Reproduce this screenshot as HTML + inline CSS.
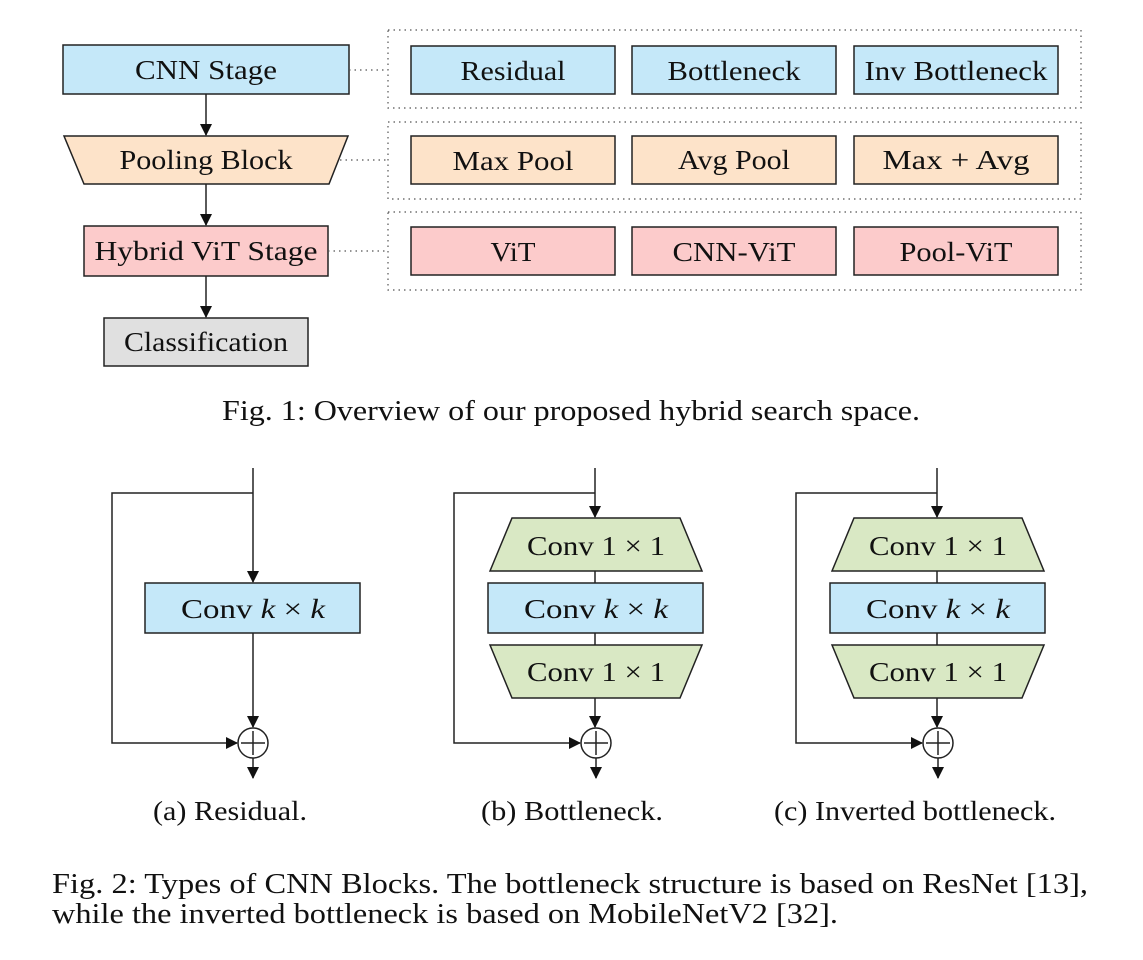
<!DOCTYPE html>
<html><head><style>
html,body{margin:0;padding:0;background:#fff;}
svg{display:block;}
text{font-family:"Liberation Serif",serif;fill:#111;}
</style></head><body>
<svg width="1143" height="960" viewBox="0 0 1143 960" xmlns="http://www.w3.org/2000/svg">
<defs>
<marker id="a" markerWidth="12" markerHeight="12" refX="11" refY="6" orient="auto" markerUnits="userSpaceOnUse"><path d="M0,0 L12,6 L0,12 z" fill="#111"/></marker>
</defs>
<g stroke="#222" stroke-width="1.5">
<rect x="63" y="45" width="286" height="49" fill="#c5e8f9"/>
<polygon points="64,136 348,136 329,184 84,184" fill="#fde3c9"/>
<rect x="84" y="226" width="244" height="50" fill="#fccbcb"/>
<rect x="104" y="318" width="204" height="48" fill="#e0e0e0"/>
<line x1="206" y1="94" x2="206" y2="135" marker-end="url(#a)"/>
<line x1="206" y1="184" x2="206" y2="225" marker-end="url(#a)"/>
<line x1="206" y1="276" x2="206" y2="317" marker-end="url(#a)"/>
</g>
<g stroke="#555" stroke-width="1.2" stroke-dasharray="1.5,4" fill="none">
<rect x="388" y="30" width="693" height="78"/>
<rect x="388" y="122" width="693" height="77"/>
<rect x="388" y="212" width="693" height="78"/>
<line x1="349" y1="70" x2="388" y2="70"/>
<line x1="340" y1="160" x2="388" y2="160"/>
<line x1="328" y1="251" x2="388" y2="251"/>
</g>
<g stroke="#222" stroke-width="1.5">
<rect x="411" y="46" width="204" height="48" fill="#c5e8f9"/>
<rect x="632" y="46" width="204" height="48" fill="#c5e8f9"/>
<rect x="854" y="46" width="204" height="48" fill="#c5e8f9"/>
<rect x="411" y="136" width="204" height="48" fill="#fde3c9"/>
<rect x="632" y="136" width="204" height="48" fill="#fde3c9"/>
<rect x="854" y="136" width="204" height="48" fill="#fde3c9"/>
<rect x="411" y="227" width="204" height="48" fill="#fccbcb"/>
<rect x="632" y="227" width="204" height="48" fill="#fccbcb"/>
<rect x="854" y="227" width="204" height="48" fill="#fccbcb"/>
</g>
<g font-size="27" text-anchor="middle" lengthAdjust="spacingAndGlyphs">
<text x="206" y="79" textLength="142" lengthAdjust="spacingAndGlyphs">CNN Stage</text>
<text x="206" y="169" textLength="173" lengthAdjust="spacingAndGlyphs">Pooling Block</text>
<text x="206" y="260" textLength="223" lengthAdjust="spacingAndGlyphs">Hybrid ViT Stage</text>
<text x="206" y="351" textLength="164" lengthAdjust="spacingAndGlyphs">Classification</text>
<text x="513" y="80" textLength="105" lengthAdjust="spacingAndGlyphs">Residual</text>
<text x="734" y="80" textLength="133" lengthAdjust="spacingAndGlyphs">Bottleneck</text>
<text x="956" y="80" textLength="183" lengthAdjust="spacingAndGlyphs">Inv Bottleneck</text>
<text x="513" y="170" textLength="121" lengthAdjust="spacingAndGlyphs">Max Pool</text>
<text x="734" y="169" textLength="112" lengthAdjust="spacingAndGlyphs">Avg Pool</text>
<text x="956" y="169" textLength="147" lengthAdjust="spacingAndGlyphs">Max + Avg</text>
<text x="513" y="261" textLength="45" lengthAdjust="spacingAndGlyphs">ViT</text>
<text x="734" y="261" textLength="123" lengthAdjust="spacingAndGlyphs">CNN-ViT</text>
<text x="956" y="261" textLength="113" lengthAdjust="spacingAndGlyphs">Pool-ViT</text>
</g>
<text x="571" y="420" font-size="29" text-anchor="middle" textLength="698" lengthAdjust="spacingAndGlyphs">Fig. 1: Overview of our proposed hybrid search space.</text>

<g stroke="#222" stroke-width="1.5" fill="none">
<line x1="253" y1="468" x2="253" y2="582" marker-end="url(#a)"/>
<polyline points="253,493 112,493 112,743 237,743" marker-end="url(#a)"/>
<line x1="253" y1="633" x2="253" y2="727" marker-end="url(#a)"/>
<circle cx="253" cy="743" r="15" fill="#fff"/>
<line x1="253" y1="731" x2="253" y2="755"/><line x1="241" y1="743" x2="265" y2="743"/>
<line x1="253" y1="758" x2="253" y2="778" marker-end="url(#a)"/>
</g>
<rect x="145" y="583" width="215" height="50" fill="#c5e8f9" stroke="#222" stroke-width="1.5"/>
<text x="253" y="618" font-size="27" text-anchor="middle" textLength="144" lengthAdjust="spacingAndGlyphs">Conv <tspan font-style="italic">k</tspan> × <tspan font-style="italic">k</tspan></text>

<g id="b">
<g stroke="#222" stroke-width="1.5" fill="none">
<line x1="595" y1="468" x2="595" y2="517" marker-end="url(#a)"/>
<polyline points="595,493 454,493 454,743 580,743" marker-end="url(#a)"/>
<line x1="595" y1="571" x2="595" y2="583"/>
<line x1="595" y1="633" x2="595" y2="645"/>
<line x1="595" y1="698" x2="595" y2="727" marker-end="url(#a)"/>
<circle cx="596" cy="743" r="15" fill="#fff"/>
<line x1="596" y1="731" x2="596" y2="755"/><line x1="584" y1="743" x2="608" y2="743"/>
<line x1="596" y1="758" x2="596" y2="778" marker-end="url(#a)"/>
</g>
<g stroke="#222" stroke-width="1.5">
<polygon points="512,518 680,518 702,571 490,571" fill="#d9e8c4"/>
<rect x="488" y="583" width="215" height="50" fill="#c5e8f9"/>
<polygon points="490,645 702,645 680,698 512,698" fill="#d9e8c4"/>
</g>
<g font-size="27" text-anchor="middle">
<text x="596" y="555" textLength="138" lengthAdjust="spacingAndGlyphs">Conv 1 × 1</text>
<text x="596" y="618" textLength="144" lengthAdjust="spacingAndGlyphs">Conv <tspan font-style="italic">k</tspan> × <tspan font-style="italic">k</tspan></text>
<text x="596" y="681" textLength="138" lengthAdjust="spacingAndGlyphs">Conv 1 × 1</text>
</g>
</g>
<use href="#b" x="342" y="0"/>

<g font-size="27" text-anchor="middle">
<text x="230" y="820" textLength="154" lengthAdjust="spacingAndGlyphs">(a) Residual.</text>
<text x="572" y="820" textLength="182" lengthAdjust="spacingAndGlyphs">(b) Bottleneck.</text>
<text x="915" y="820" textLength="282" lengthAdjust="spacingAndGlyphs">(c) Inverted bottleneck.</text>
</g>
<text x="52" y="893" font-size="29" textLength="1036" lengthAdjust="spacingAndGlyphs">Fig. 2: Types of CNN Blocks. The bottleneck structure is based on ResNet [13],</text>
<text x="52" y="923" font-size="29" textLength="786" lengthAdjust="spacingAndGlyphs">while the inverted bottleneck is based on MobileNetV2 [32].</text>
</svg>
</body></html>
